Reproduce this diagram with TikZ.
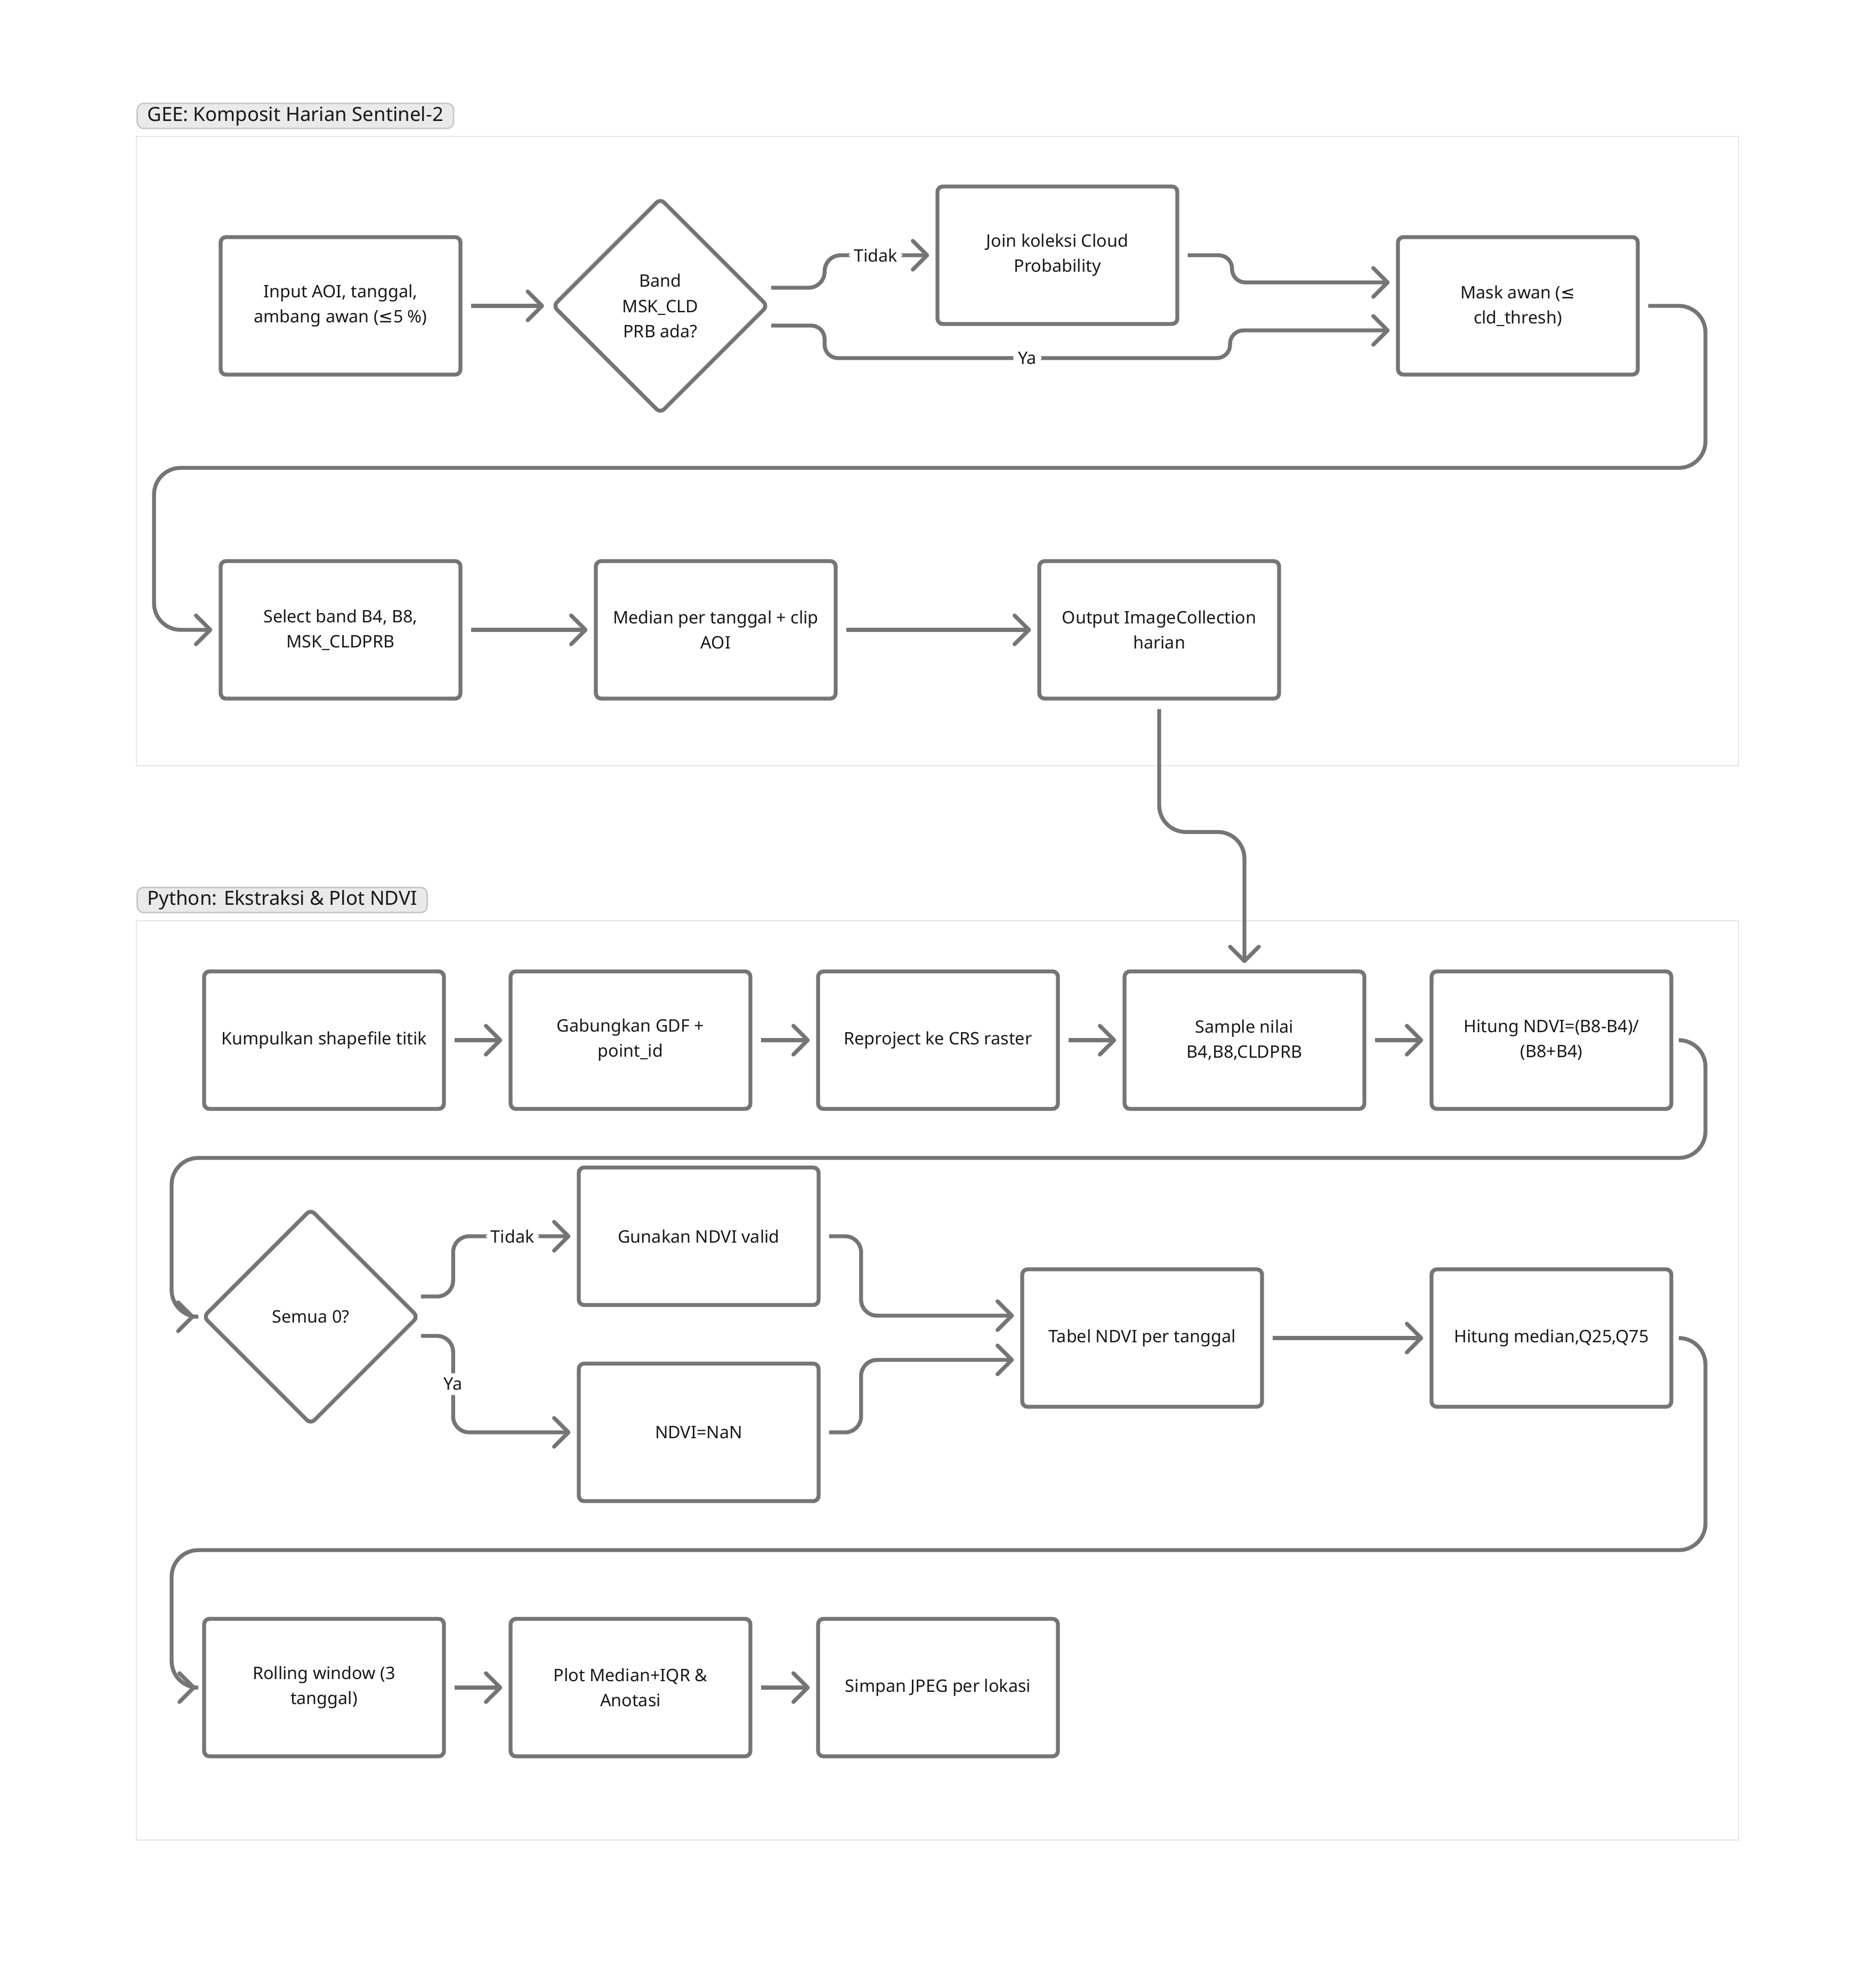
\documentclass[tikz,border=0pt]{standalone}
\usepackage{fontspec}
\setmainfont{Noto Sans}
\newfontfamily\symfont{DejaVu Sans}
\usetikzlibrary{shapes.geometric, arrows.meta, calc}
\definecolor{linegray}{RGB}{117,117,117}
\definecolor{framegray}{RGB}{229,229,229}
\definecolor{tagfill}{RGB}{234,234,234}
\definecolor{tagline}{RGB}{200,200,200}
\definecolor{inkblack}{RGB}{24,24,24}

\begin{document}
\begin{tikzpicture}[
    font=\fontsize{9.2pt}{13.4pt}\selectfont,
    text=inkblack,
    box/.style={draw=linegray, line width=2.1pt, rounded corners=0.1cm,
        minimum width=4.5cm, minimum height=2.58cm, align=center, inner sep=0pt},
    decision/.style={draw=linegray, line width=2.1pt, diamond, aspect=1,
        minimum size=4.05cm, rounded corners=0.1cm, align=center, inner sep=0pt},
    link/.style={draw=linegray, line width=2.1pt,
        -{Straight Barb[length=2.7mm,width=5.4mm,round]},
        shorten <=0.16cm, shorten >=0.12cm, rounded corners=0.5cm},
    answer/.style={fill=white, inner sep=0.09cm},
    tag/.style={draw=tagline, fill=tagfill, line width=0.8pt, rounded corners=0.12cm,
        minimum height=0.47cm, inner xsep=0.19cm, inner ysep=0pt, anchor=west,
        font=\fontsize{10.4pt}{13pt}\selectfont},
    frame/.style={draw=framegray, line width=0.8pt}
]
    \useasboundingbox (0,0) rectangle (35.2,-37.12);

    \draw[frame] (2.56,-2.56) rectangle (32.62,-14.37);
    \draw[frame] (2.56,-17.28) rectangle (32.62,-34.53);
    \node[tag] (geetag) at (2.56,-2.175) {GEE: Komposit Harian Sentinel-2};
    \node[tag] (pytag) at (2.56,-16.89) {Python: Ekstraksi \& Plot NDVI};

    \node[box] (in1) at (6.39,-5.74) {Input AOI, tanggal,\\ ambang awan ({\symfont ≤}5 \%)};
    \node[decision] (dec1) at (12.39,-5.74) {Band\\ MSK\_CLD\\ PRB ada?};
    \node[box] (join) at (19.84,-4.79) {Join koleksi Cloud\\ Probability};
    \node[box] (mask) at (28.48,-5.74) {Mask awan ({\symfont ≤}\\ cld\_thresh)};
    \node[box] (sel) at (6.39,-11.82) {Select band B4, B8,\\ MSK\_CLDPRB};
    \node[box] (med) at (13.43,-11.82) {Median per tanggal + clip\\ AOI};
    \node[box] (out) at (21.75,-11.82) {Output ImageCollection\\ harian};

    \node[box] (kum) at (6.08,-19.52) {Kumpulkan shapefile titik};
    \node[box] (gab) at (11.83,-19.52) {Gabungkan GDF +\\ point\_id};
    \node[box] (rep) at (17.60,-19.52) {Reproject ke CRS raster};
    \node[box] (sam) at (23.35,-19.52) {Sample nilai\\ B4,B8,CLDPRB};
    \node[box] (hit) at (29.11,-19.52) {Hitung NDVI=(B8-B4)/\\ (B8+B4)};
    \node[decision] (dec2) at (5.83,-24.71) {Semua 0?};
    \node[box] (gun) at (13.11,-23.20) {Gunakan NDVI valid};
    \node[box] (nan) at (13.11,-26.88) {NDVI=NaN};
    \node[box] (tab) at (21.43,-25.11) {Tabel NDVI per tanggal};
    \node[box] (hm) at (29.11,-25.11) {Hitung median,Q25,Q75};
    \node[box] (roll) at (6.08,-31.67) {Rolling window (3\\ tanggal)};
    \node[box] (plot) at (11.83,-31.67) {Plot Median+IQR \&\\ Anotasi};
    \node[box] (simp) at (17.60,-31.67) {Simpan JPEG per lokasi};

    \path[link]
        (in1) edge (dec1)
        (sel) edge (med)
        (med) edge (out)
        (kum) edge (gab)
        (gab) edge (rep)
        (rep) edge (sam)
        (sam) edge (hit)
        (tab) edge (hm)
        (roll) edge (plot)
        (plot) edge (simp);

    \draw[link, rounded corners=0.3cm] ($(dec1.east)+(-0.14,0.34)$) -- ++(1.16,0) |- (join)
        node[answer, pos=0.73] {Tidak};
    \draw[link, rounded corners=0.25cm] ($(dec1.east)+(-0.14,-0.37)$) -- ++(1.16,0)
        |- (23.08,-6.72) node[answer, pos=0.75] {Ya}
        |- ($(mask.west)+(0,-0.46)$);
    \draw[link, rounded corners=0.25cm] (join.east) -- ++(0.99,0) |- ($(mask.west)+(0,0.44)$);
    \draw[link] (mask.east) -| (32.00,-8.78) -- (2.89,-8.78) |- (sel);
    \draw[link] (out) |- ($(sam.north)+(0,2.58)$) -- (sam);

    \draw[link] (hit.east) -| (32.00,-21.73) -- (3.22,-21.73) |- (dec2);
    \draw[link, rounded corners=0.3cm] ($(dec2.east)+(-0.15,0.38)$) -- ++(0.76,0) |- (gun)
        node[answer, pos=0.74] {Tidak};
    \draw[link, rounded corners=0.3cm] ($(dec2.east)+(-0.15,-0.36)$) -- ++(0.76,0) |- (nan)
        node[answer, pos=0.25] {Ya};
    \draw[link, rounded corners=0.3cm] (gun.east) -- ++(0.76,0) |- ($(tab.west)+(0,0.42)$);
    \draw[link, rounded corners=0.3cm] (nan.east) -- ++(0.76,0) |- ($(tab.west)+(0,-0.41)$);
    \draw[link] (hm.east) -| (32.00,-29.09) -- (3.22,-29.09) |- (roll);
\end{tikzpicture}
\end{document}
